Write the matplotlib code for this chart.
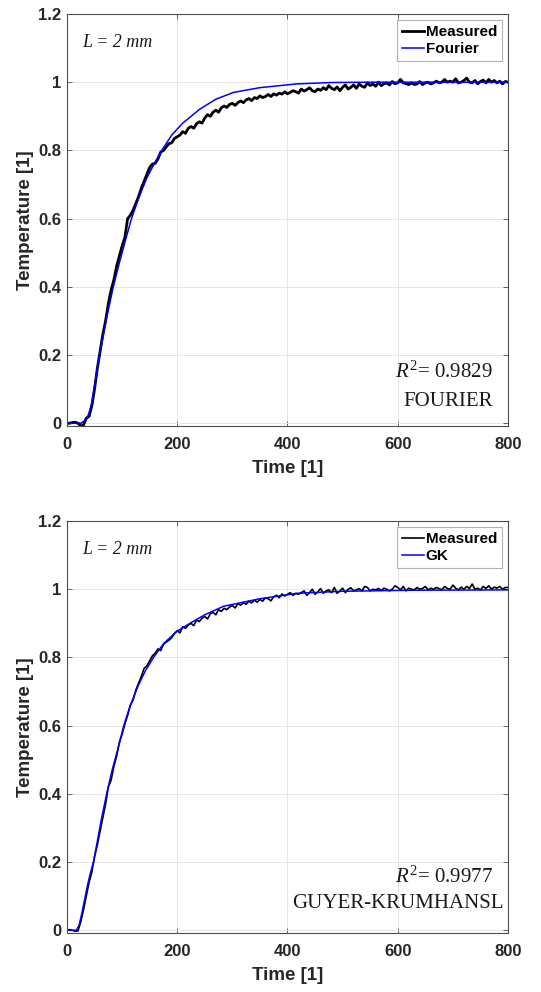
import numpy as np
import matplotlib
matplotlib.use("Agg")
import matplotlib.pyplot as plt

plt.rcParams['font.family'] = ['Liberation Sans', 'DejaVu Sans']
plt.rcParams['mathtext.fontset'] = 'custom'
plt.rcParams['mathtext.rm'] = 'Liberation Serif'
plt.rcParams['mathtext.it'] = 'Liberation Serif:italic'

# ---------------- data ----------------
time_meas = np.arange(0, 805, 5)

meas_top = [
    0.0, 0.0, 0.002, 0.003, 0.0, -0.008, -0.005, 0.015, 0.02, 0.05,
    0.10, 0.16, 0.21, 0.26, 0.30, 0.35, 0.39, 0.42, 0.46, 0.49,
    0.52, 0.545, 0.60, 0.61, 0.625, 0.645, 0.665, 0.69, 0.71, 0.73,
    0.75, 0.76, 0.762, 0.775, 0.795, 0.80, 0.81, 0.82, 0.822, 0.835,
    0.84, 0.845, 0.855, 0.85, 0.865, 0.87, 0.865, 0.878, 0.884, 0.88,
    0.895, 0.905, 0.90, 0.912, 0.918, 0.912, 0.925, 0.93, 0.926, 0.935,
    0.938, 0.932, 0.94, 0.945, 0.94, 0.948, 0.952, 0.946, 0.955, 0.952,
    0.96, 0.955, 0.958, 0.964, 0.958, 0.966, 0.962, 0.968, 0.965, 0.972,
    0.966, 0.97, 0.975, 0.972, 0.968, 0.98, 0.974, 0.978, 0.984, 0.975,
    0.972, 0.98, 0.976, 0.984, 0.978, 0.99, 0.982, 0.978, 0.986, 0.975,
    0.985, 0.992, 0.98, 0.985, 0.992, 0.982, 0.995, 0.988, 0.985, 0.998,
    0.99, 0.995, 0.988, 1.0, 0.99, 0.995, 0.998, 0.992, 1.002, 0.995,
    0.998, 1.008, 0.998, 0.996, 0.993, 0.998, 0.993, 0.995, 1.002, 0.993,
    0.998, 1.0, 0.995, 0.998, 1.003, 0.998, 1.0, 1.008, 1.0, 1.003,
    1.0, 1.01, 0.998, 1.0, 1.005, 1.012, 1.0, 0.998, 1.005, 0.995,
    1.002, 1.006, 0.998, 1.008, 1.0, 1.005, 0.998, 1.003, 0.995, 1.002,
    1.0,
]

time_fourier = [0, 25, 35, 40, 45, 50, 55, 59, 65, 72, 84, 95, 105, 117,
                130, 145, 158, 172, 190, 210, 241, 270, 302, 350, 417, 480,
                550, 800]
fourier = [0.0, 0.0, 0.01, 0.03, 0.06, 0.11, 0.16, 0.2, 0.25, 0.31, 0.40,
           0.47, 0.53, 0.60, 0.66, 0.72, 0.76, 0.80, 0.845, 0.88, 0.921,
           0.95, 0.97, 0.984, 0.995, 0.999, 1.0, 1.0]

meas_bot = [
    0.0, 0.002, 0.0, -0.003, -0.002, 0.025, 0.06, 0.10, 0.14, 0.17,
    0.215, 0.25, 0.29, 0.33, 0.37, 0.42, 0.44, 0.48, 0.51, 0.55,
    0.575, 0.605, 0.63, 0.66, 0.675, 0.705, 0.725, 0.745, 0.768, 0.775,
    0.79, 0.805, 0.812, 0.825, 0.82, 0.838, 0.845, 0.85, 0.858, 0.87,
    0.878, 0.872, 0.89, 0.885, 0.895, 0.90, 0.893, 0.91, 0.905, 0.915,
    0.92, 0.913, 0.928, 0.932, 0.925, 0.94, 0.935, 0.944, 0.94, 0.948,
    0.952, 0.945, 0.958, 0.953, 0.96, 0.956, 0.965, 0.96, 0.968, 0.962,
    0.97, 0.965, 0.975, 0.972, 0.966, 0.978, 0.982, 0.975, 0.986, 0.98,
    0.985, 0.99, 0.982, 0.988, 0.985, 0.99, 0.995, 0.982, 0.99, 1.0,
    0.985, 0.992, 1.002, 0.988, 0.995, 0.998, 0.99, 1.005, 0.988, 0.995,
    1.003, 0.99, 1.0, 1.004, 0.995, 0.998, 1.002, 0.995, 1.008, 1.005,
    0.995, 1.0, 0.998, 1.002, 0.996, 1.003, 1.0, 0.995, 1.0, 1.01,
    1.005, 0.998, 1.008, 0.995, 1.003, 1.0, 0.998, 1.005, 1.0, 1.002,
    1.008, 0.998, 1.003, 1.0, 1.005, 1.002, 0.998, 1.008, 1.002, 1.0,
    1.012, 1.003, 0.998, 1.006, 1.0, 1.008, 1.002, 1.015, 1.0, 1.003,
    0.998, 1.008, 1.002, 1.01, 1.0, 1.006, 1.003, 1.008, 1.0, 1.005,
    1.005,
]

time_gk = [0, 17, 22, 27, 32, 37, 42, 48, 55, 63, 72, 82, 92, 103, 115,
           130, 142, 157, 175, 198, 223, 250, 284, 320, 350, 418, 500, 626,
           800]
gk = [0.0, 0.0, 0.015, 0.05, 0.09, 0.13, 0.165, 0.2, 0.26, 0.33, 0.40,
      0.47, 0.53, 0.60, 0.66, 0.72, 0.76, 0.80, 0.84, 0.875, 0.90, 0.925,
      0.95, 0.962, 0.972, 0.988, 0.994, 0.997, 0.998]

x_ticks = [0, 200, 400, 600, 800]
x_ticklabels = ['0', '200', '400', '600', '800']
y_ticks = [0, 0.2, 0.4, 0.6, 0.8, 1.0, 1.2]
y_ticklabels = ['0', '0.2', '0.4', '0.6', '0.8', '1', '1.2']

panels = [
    dict(meas=meas_top, tm=time_fourier, model=fourier, name='Fourier',
         r2='$R^{2}$= 0.9829', label='FOURIER', meas_lw=2.0,
         r2_pos=(0.965, 0.118), lab_pos=(0.965, 0.0485)),
    dict(meas=meas_bot, tm=time_gk, model=gk, name='GK',
         r2='$R^{2}$= 0.9977', label='GUYER-KRUMHANSL', meas_lw=1.2,
         r2_pos=(0.965, 0.1206), lab_pos=(0.991, 0.06)),
]

fig = plt.figure(figsize=(5.41, 9.92), dpi=100)
axes_rects = [[0.1238, 0.5706, 0.8152, 0.4153],
              [0.1238, 0.0595, 0.8152, 0.4153]]

dark = '#262626'
for rect, p in zip(axes_rects, panels):
    ax = fig.add_axes(rect)
    ax.plot(time_meas, p['meas'], color='black', lw=p['meas_lw'], label='Measured')
    ax.plot(p['tm'], p['model'], color='#0000ff', lw=1.1, label=p['name'])
    ax.set_xlim(0, 800)
    ax.set_ylim(-0.008, 1.2)
    ax.set_xticks(x_ticks)
    ax.set_xticklabels(x_ticklabels)
    ax.set_yticks(y_ticks)
    ax.set_yticklabels(y_ticklabels)
    ax.grid(True, color='#e6e6e6', lw=0.7)
    ax.set_axisbelow(True)
    for s in ax.spines.values():
        s.set_color('#4d4d4d')
        s.set_linewidth(0.8)
    ax.tick_params(direction='in', top=True, right=True, length=3.5,
                   width=0.6, colors='#4d4d4d', labelcolor=dark,
                   labelsize=12)
    ax.tick_params(axis='x', pad=8)
    ax.tick_params(axis='y', pad=4)
    for lbl in ax.get_xticklabels() + ax.get_yticklabels():
        lbl.set_fontweight('bold')
    ax.set_xlabel('Time [1]', fontsize=13.5, fontweight='bold', color=dark,
                  labelpad=6)
    ax.set_ylabel('Temperature [1]', fontsize=13.5, fontweight='bold',
                  color=dark, labelpad=3)
    leg = ax.legend(loc='upper right', frameon=True,
                    fancybox=False, borderaxespad=0.42, handlelength=1.45,
                    handletextpad=0.1, borderpad=0.3, labelspacing=0.22,
                    prop={'weight': 'bold', 'size': 11})
    leg.get_frame().set_edgecolor('#a0a0a0')
    leg.get_frame().set_linewidth(0.8)
    for t in leg.get_texts():
        t.set_color('black')
    ax.text(0.0356, 0.9206, 'L = 2 mm', transform=ax.transAxes,
            fontsize=13, family='Liberation Serif', style='italic',
            ha='left', va='baseline', color='#1a1a1a')
    ax.text(p['r2_pos'][0], p['r2_pos'][1], p['r2'], transform=ax.transAxes,
            fontsize=15, family='Liberation Serif', ha='right',
            va='baseline', color='#1a1a1a')
    ax.text(p['lab_pos'][0], p['lab_pos'][1], p['label'],
            transform=ax.transAxes, fontsize=15, family='Liberation Serif',
            ha='right', va='baseline', color='#1a1a1a')

fig.savefig('out.png', dpi=100)
